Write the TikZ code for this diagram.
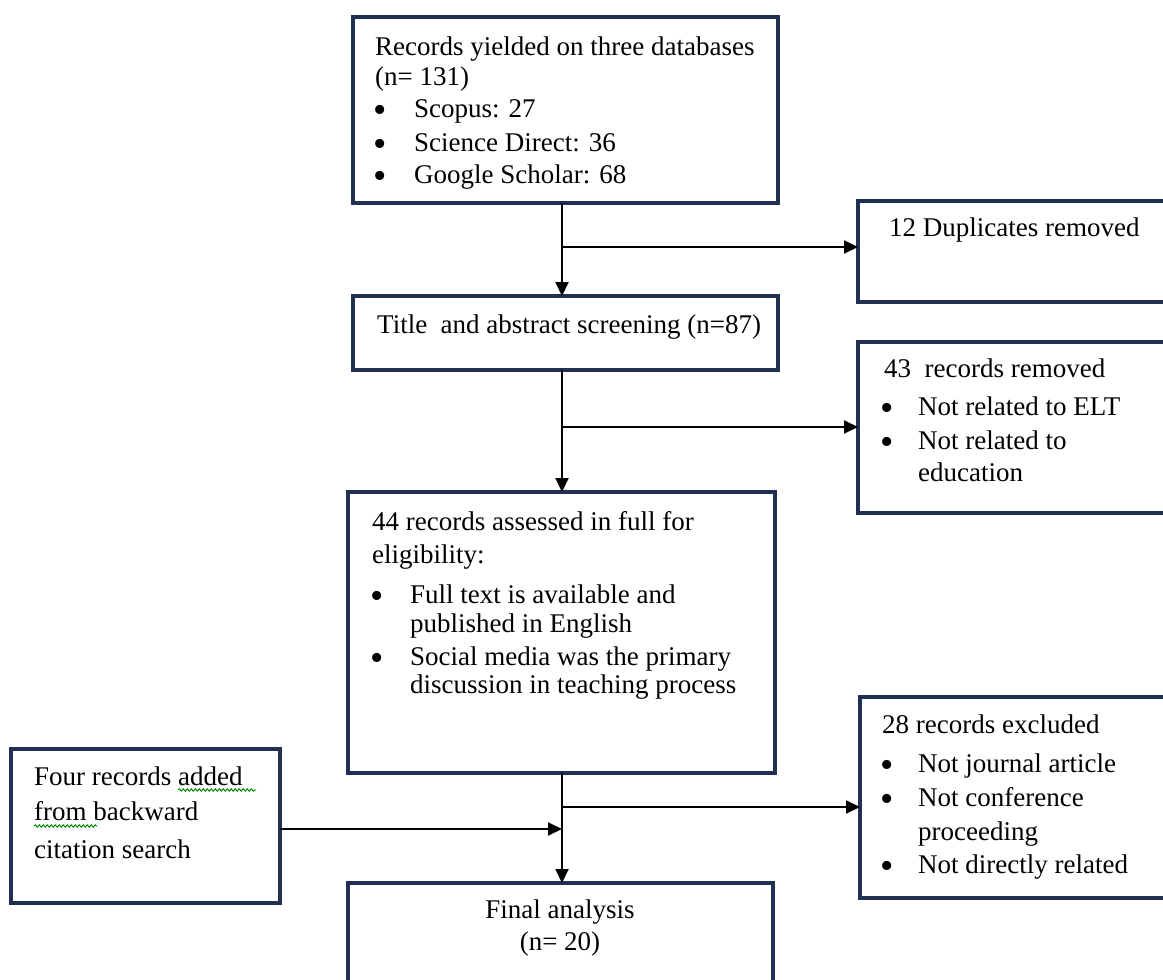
\documentclass[tikz,border=0pt]{standalone}
\usepackage{fontspec}
\setmainfont{Liberation Serif}
\usetikzlibrary{arrows.meta,decorations.pathmorphing}
\definecolor{navy}{RGB}{31,48,82}
\begin{document}
\begin{tikzpicture}[x=1pt,y=-1pt,
  box/.style={draw=navy,line width=4.5pt,fill=white,anchor=north west,inner sep=0pt,outer sep=0pt},
  arr/.style={line width=2pt,-{Triangle[length=14pt,width=13pt]}},
  txt/.style={anchor=base west,inner sep=0pt,font=\fontsize{27}{33}\selectfont},
  ctxt/.style={anchor=base,inner sep=0pt,font=\fontsize{27}{33}\selectfont},
  bl/.style={anchor=base,inner sep=0pt,font=\fontsize{38}{38}\selectfont,yshift=-5pt,text height=18pt,text depth=0pt},
  wavy/.style={draw=green!55!black,line width=1pt,decorate,decoration={snake,amplitude=1.2pt,segment length=4pt}}]
\clip (0,0) rectangle (1163,980);
\fill[white] (0,0) rectangle (1163,980);
% boxes
\node[box,minimum width=425pt,minimum height=186pt] (b1) at (353,17) {};
\node[box,minimum width=425pt,minimum height=74pt] (b2) at (353,296) {};
\node[box,minimum width=330pt,minimum height=101pt] (dup) at (858,201) {};
\node[box,minimum width=330pt,minimum height=171pt] (rem) at (858,342) {};
\node[box,minimum width=427pt,minimum height=281pt] (b3) at (348,492) {};
\node[box,minimum width=330pt,minimum height=201pt] (exc) at (860,697) {};
\node[box,minimum width=269pt,minimum height=154pt] (four) at (11,749) {};
\node[box,minimum width=425pt,minimum height=140pt] (fin) at (348,883) {};
% connectors
\coordinate (j1) at (562,247);
\coordinate (j2) at (562,427);
\coordinate (j3) at (562,807);
\coordinate (j4) at (562,829);
\draw[arr] (b1.south -| j1) -- (b2.north -| j1);
\draw[arr] (j1) -- (j1 -| dup.west);
\draw[arr] (b2.south -| j2) -- (b3.north -| j2);
\draw[arr] (j2) -- (j2 -| rem.west);
\draw[arr] (b3.south -| j3) -- (fin.north -| j3);
\draw[arr] (j3) -- (j3 -| exc.west);
\draw[arr] (four.east |- j4) -- (j4);
% box 1 text
\node[txt] (t1a) at (375,55) {Records yielded on three databases};
\node[txt] (t1b) at (375,85) {(n= 131)};
\node[bl] (t1c) at (380,117) {•}; \node[txt] (t1d) at (414,117) {Scopus: 27};
\node[bl] (t1e) at (380,151) {•}; \node[txt] (t1f) at (414,151) {Science Direct: 36};
\node[bl] (t1g) at (380,183) {•}; \node[txt] (t1h) at (414,183) {Google Scholar: 68};
% box 2 text
\node[txt] (t2) at (377,333) {Title\ \ and abstract screening (n=87)};
% duplicates
\node[txt] (td) at (889,236) {12 Duplicates removed};
% removed
\node[txt] (tra) at (884,377) {43\ \ records removed};
\node[bl] (trb) at (887,415) {•}; \node[txt] (trc) at (918,415) {Not related to ELT};
\node[bl] (trd) at (887,449) {•}; \node[txt] (tre) at (918,449) {Not related to};
\node[txt] (trf) at (918,481) {education};
% box 3
\node[txt] (t3a) at (372,530) {44 records assessed in full for};
\node[txt] (t3b) at (372,563) {eligibility:};
\node[bl] (t3c) at (377,603) {•}; \node[txt] (t3d) at (410,603) {Full text is available and};
\node[txt] (t3e) at (410,632) {published in English};
\node[bl] (t3f) at (377,665) {•}; \node[txt] (t3g) at (410,665) {Social media was the primary};
\node[txt] (t3h) at (410,693) {discussion in teaching process};
% excluded
\node[txt] (tea) at (882,733) {28 records excluded};
\node[bl] (teb) at (887,772) {•}; \node[txt] (tec) at (918,772) {Not journal article};
\node[bl] (ted) at (887,806) {•}; \node[txt] (tee) at (918,806) {Not conference};
\node[txt] (tef) at (918,840) {proceeding};
\node[bl] (teg) at (887,873) {•}; \node[txt] (teh) at (918,873) {Not directly related};
% four
\node[txt] (tfa) at (34,785) {Four records added};
\node[txt] (tfb) at (34,820) {from backward};
\node[txt] (tfc) at (34,858) {citation search};
\draw[wavy] (178,790) -- (256,790);
\draw[wavy] (34,826) -- (97,826);
% final
\node[ctxt] (tga) at (560,918) {Final analysis};
\node[ctxt] (tgb) at (560,950) {(n= 20)};
\end{tikzpicture}
\end{document}
